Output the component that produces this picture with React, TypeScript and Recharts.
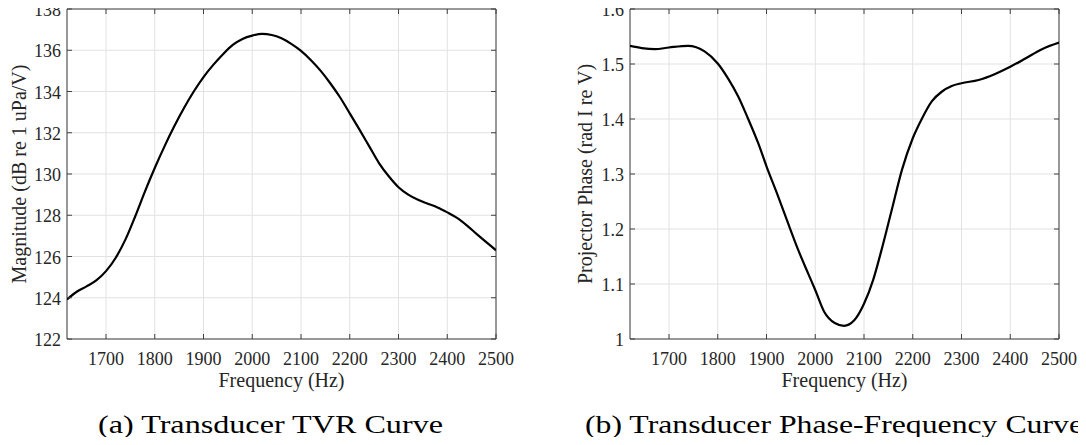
import { LineChart, Line, XAxis, YAxis, CartesianGrid, ReferenceArea, Label } from 'recharts'

// frequency axis shared by both plots
const freqTicks = [1700, 1800, 1900, 2000, 2100, 2200, 2300, 2400, 2500]
const freqDomain = [1620, 2500]

// (a) TVR curve
const tvrFreq = [1620, 1640, 1660, 1680, 1700, 1720, 1740, 1760, 1780, 1800, 1820, 1840, 1860, 1880, 1900, 1920, 1940, 1960, 1980, 2000, 2020, 2040, 2060, 2080, 2100, 2120, 2140, 2160, 2180, 2200, 2220, 2240, 2260, 2280, 2300, 2320, 2340, 2360, 2380, 2400, 2420, 2440, 2460, 2480, 2500]
const tvrMag = [123.92, 124.29, 124.55, 124.84, 125.29, 125.94, 126.83, 127.95, 129.16, 130.29, 131.34, 132.31, 133.2, 134.0, 134.7, 135.29, 135.81, 136.26, 136.55, 136.71, 136.79, 136.74, 136.58, 136.31, 135.97, 135.53, 135.01, 134.4, 133.72, 132.94, 132.15, 131.34, 130.53, 129.89, 129.36, 129.0, 128.75, 128.56, 128.38, 128.14, 127.87, 127.51, 127.1, 126.7, 126.3]
const tvrTicks = [122, 124, 126, 128, 130, 132, 134, 136, 138]

// (b) phase curve
const phaseFreq = [1620, 1644, 1671, 1700, 1739, 1773, 1800, 1821, 1842, 1862, 1883, 1900, 1924, 1944, 1965, 1986, 2000, 2018, 2040, 2059, 2080, 2100, 2119, 2136, 2157, 2178, 2200, 2219, 2239, 2260, 2280, 2300, 2335, 2369, 2400, 2431, 2465, 2500]
const phaseVal = [1.533, 1.529, 1.527, 1.53, 1.533, 1.523, 1.501, 1.474, 1.441, 1.401, 1.356, 1.314, 1.259, 1.211, 1.162, 1.118, 1.089, 1.05, 1.029, 1.024, 1.034, 1.064, 1.108, 1.162, 1.235, 1.308, 1.365, 1.401, 1.432, 1.45, 1.46, 1.465, 1.471, 1.482, 1.495, 1.51, 1.527, 1.539]
const phaseTicks = [1, 1.1, 1.2, 1.3, 1.4, 1.5, 1.6]

const tvrData = tvrFreq.map((f, i) => ({ f, v: tvrMag[i] }))
const phaseData = phaseFreq.map((f, i) => ({ f, v: phaseVal[i] }))

const FONT = '"Liberation Serif", "Times New Roman", serif'
const AXIS = '#404040'
const TEXT = '#262626'
const PLOT_TOP = 9
const PLOT_H = 330
const PLOT_W = 429
const PLOT_BOTTOM = PLOT_TOP + PLOT_H
const TICK_LEN = 5

function XTick({ x, payload }: any) {
	return (
		<g>
			<line x1={x} x2={x} y1={PLOT_BOTTOM} y2={PLOT_BOTTOM - TICK_LEN} stroke={AXIS} />
			<line x1={x} x2={x} y1={PLOT_TOP} y2={PLOT_TOP + TICK_LEN} stroke={AXIS} />
			<text x={x} y={PLOT_BOTTOM + 26} textAnchor="middle" fontSize={18} fontFamily={FONT} fill={TEXT}>
				{payload.value}
			</text>
		</g>
	)
}

function makeYTick(plotLeft: number) {
	return ({ y, payload }: any) => (
		<g>
			<line x1={plotLeft} x2={plotLeft + TICK_LEN} y1={y} y2={y} stroke={AXIS} />
			<line x1={plotLeft + PLOT_W - TICK_LEN} x2={plotLeft + PLOT_W} y1={y} y2={y} stroke={AXIS} />
			<text x={plotLeft - 6} y={y + 7} textAnchor="end" fontSize={18} fontFamily={FONT} fill={TEXT}>
				{payload.value}
			</text>
		</g>
	)
}

function Panel({
	data,
	yTicks,
	yDomain,
	yLabel,
	yAxisWidth,
	left,
	rightMargin,
}: {
	data: { f: number; v: number }[]
	yTicks: number[]
	yDomain: number[]
	yLabel: string
	yAxisWidth: number
	left: number
	rightMargin: number
}) {
	const width = yAxisWidth + PLOT_W + rightMargin
	const YTick = makeYTick(yAxisWidth)
	return (
		<div style={{ position: 'absolute', left, top: 0 }}>
			<LineChart width={width} height={445} data={data} margin={{ top: PLOT_TOP, right: rightMargin, bottom: 46, left: 0 }}>
				<CartesianGrid stroke="#e2e2e2" />
				<XAxis
					dataKey="f"
					type="number"
					domain={freqDomain}
					ticks={freqTicks}
					interval={0}
					allowDataOverflow
					height={60}
					tickLine={false}
					tickSize={0}
					tickMargin={0}
					axisLine={false}
					tick={<XTick />}
				>
					<Label value="Frequency (Hz)" position="insideBottom" offset={12} fontSize={20} fontFamily={FONT} fill={TEXT} />
				</XAxis>
				<YAxis
					type="number"
					domain={yDomain}
					ticks={yTicks}
					interval={0}
					allowDataOverflow
					width={yAxisWidth}
					tickLine={false}
					tickSize={0}
					tickMargin={0}
					axisLine={false}
					tick={<YTick />}
				>
					<Label value={yLabel} position="center" angle={-90} fontSize={20} fontFamily={FONT} fill={TEXT} />
				</YAxis>
				<ReferenceArea
					x1={freqDomain[0]}
					x2={freqDomain[1]}
					y1={yDomain[0]}
					y2={yDomain[1]}
					fill="none"
					fillOpacity={0}
					stroke={AXIS}
					strokeWidth={1}
					ifOverflow="visible"
				/>
				<Line type="monotone" dataKey="v" stroke="#000" strokeWidth={2.2} dot={false} isAnimationActive={false} />
			</LineChart>
		</div>
	)
}

export default function App() {
	return (
		<div style={{ position: 'relative', width: 1086, height: 445, margin: -8, background: '#fff', overflow: 'hidden' }}>
			<Panel
				data={tvrData}
				yTicks={tvrTicks}
				yDomain={[122, 138]}
				yLabel="Magnitude (dB re 1 uPa/V)"
				yAxisWidth={97}
				left={-30}
				rightMargin={40}
			/>
			<Panel
				data={phaseData}
				yTicks={phaseTicks}
				yDomain={[1, 1.6]}
				yLabel="Projector Phase (rad I re V)"
				yAxisWidth={90}
				left={540}
				rightMargin={20}
			/>
			<svg width={1086} height={445} style={{ position: 'absolute', left: 0, top: 0, pointerEvents: 'none' }}>
				<text x={98} y={433} fontSize={25} fontFamily={FONT} fill="#000" textLength={345} lengthAdjust="spacingAndGlyphs">
					(a) Transducer TVR Curve
				</text>
				<text x={585} y={433} fontSize={25} fontFamily={FONT} fill="#000" textLength={498} lengthAdjust="spacingAndGlyphs">
					(b) Transducer Phase-Frequency Curve
				</text>
			</svg>
		</div>
	)
}
